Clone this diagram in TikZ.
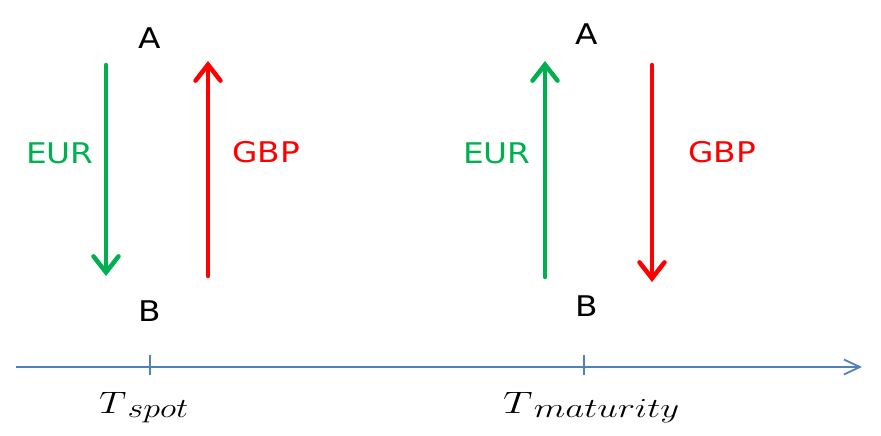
\RequirePackage{fix-cm}
\documentclass[tikz,border=0pt]{standalone}
\usepackage{fontspec}
\setsansfont{DejaVu Sans}
\usetikzlibrary{arrows.meta}
\definecolor{eurgreen}{RGB}{0,176,80}
\definecolor{gbpred}{RGB}{255,0,0}
\definecolor{axisblue}{RGB}{79,129,189}
\newcommand{\widetxt}[1]{\scalebox{1.15}[1]{#1}}
\newcommand{\timelabel}[2]{\resizebox{#2}{\height}{\fontsize{31}{34}\selectfont$T$\kern1pt\raisebox{-4pt}{\fontsize{27.5}{30}\selectfont$#1$}}}
\tikzset{
  lbl/.style={font=\sffamily\fontsize{28.5}{32}\selectfont, inner sep=0pt},
  eurlbl/.style={lbl, text=eurgreen},
  gbplbl/.style={lbl, text=gbpred},
  flow/.style={line width=4.5pt, line cap=round, -{Straight Barb[length=16pt,width=25pt,line cap=round]}},
  eur/.style={flow, draw=eurgreen},
  gbp/.style={flow, draw=gbpred},
  timeaxis/.style={draw=axisblue, line width=1.8pt, -{Straight Barb[length=16pt,width=15pt]}},
  tickmark/.style={draw=axisblue, line width=1.6pt},
  tlbl/.style={inner sep=0pt, anchor=base west}
}
\begin{document}
\begin{tikzpicture}[x=1pt,y=-1pt]
\useasboundingbox (0,0) rectangle (881,436);
% left group
\node[lbl] (A1) at (150,38) {\widetxt{A}};
\node[lbl] (B1) at (150,311.5) {\widetxt{B}};
\node[eurlbl] (E1) at (60,153) {\widetxt{EUR}};
\node[gbplbl] (G1) at (266,152) {\widetxt{GBP}};
\coordinate (e1s) at (106,65);
\coordinate (e1t) at (106,276);
\coordinate (g1s) at (208,276);
\coordinate (g1t) at (208,61);
\draw[eur] (e1s) -- (e1t);
\draw[gbp] (g1s) -- (g1t);
% right group
\node[lbl] (A2) at (587,34) {\widetxt{A}};
\node[lbl] (B2) at (587,306) {\widetxt{B}};
\node[eurlbl] (E2) at (497,153) {\widetxt{EUR}};
\node[gbplbl] (G2) at (722,152) {\widetxt{GBP}};
\coordinate (e2s) at (545,277);
\coordinate (e2t) at (545,61);
\coordinate (g2s) at (652,65);
\coordinate (g2t) at (652,282);
\draw[eur] (e2s) -- (e2t);
\draw[gbp] (g2s) -- (g2t);
% time axis
\coordinate (ax0) at (16,367);
\coordinate (ax1) at (862,367);
\draw[timeaxis] (ax0) -- (ax1);
\coordinate (t1a) at (150,355);
\coordinate (t1b) at (150,375);
\coordinate (t2a) at (584,355);
\coordinate (t2b) at (584,375);
\draw[tickmark] (t1a) -- (t1b);
\draw[tickmark] (t2a) -- (t2b);
\node[tlbl] (Ts) at (99,413) {\timelabel{spot}{89pt}};
\node[tlbl] (Tm) at (503,413) {\timelabel{maturity}{176pt}};
\end{tikzpicture}
\end{document}
